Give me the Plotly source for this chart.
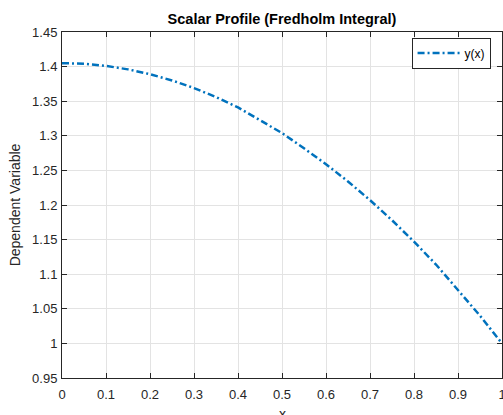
import plotly.graph_objects as go

x_vals = [0.0, 0.05, 0.1, 0.15, 0.2, 0.25, 0.3, 0.35, 0.4, 0.45, 0.5,
          0.55, 0.6, 0.65, 0.7, 0.75, 0.8, 0.85, 0.9, 0.95, 1.0]
y_vals = [1.405, 1.404, 1.401, 1.396, 1.389, 1.380, 1.369, 1.356, 1.341, 1.323, 1.304,
          1.282, 1.259, 1.234, 1.207, 1.178, 1.147, 1.114, 1.077, 1.040, 1.000]

x_ticks = [0, 0.1, 0.2, 0.3, 0.4, 0.5, 0.6, 0.7, 0.8, 0.9, 1]
x_tick_labels = ["0", "0.1", "0.2", "0.3", "0.4", "0.5", "0.6", "0.7", "0.8", "0.9", "1"]
y_ticks = [0.95, 1.0, 1.05, 1.1, 1.15, 1.2, 1.25, 1.3, 1.35, 1.4, 1.45]
y_tick_labels = ["0.95", "1", "1.05", "1.1", "1.15", "1.2", "1.25", "1.3", "1.35", "1.4", "1.45"]

FONT = "Liberation Sans, Arial, sans-serif"
AX = "#262626"
GRID = "#e3e3e3"

fig = go.Figure()
fig.add_trace(go.Scatter(
    x=x_vals, y=y_vals, mode="lines", name="y(x)",
    line=dict(color="#0072BD", width=2.5, dash="7px,3px,2px,3px"),
))

axis_common = dict(
    showline=True, linecolor=AX, linewidth=1, mirror="ticks",
    ticks="inside", ticklen=5, tickcolor=AX, tickwidth=1,
    showgrid=True, gridcolor=GRID, gridwidth=1, zeroline=False,
    tickfont=dict(family=FONT, size=13, color=AX),
    ticklabeloverflow="allow",
)

fig.update_layout(
    width=503, height=415,
    margin=dict(l=62, r=1, t=32, b=37),
    paper_bgcolor="white", plot_bgcolor="white",
    title=dict(text="<b>Scalar Profile (Fredholm Integral)</b>",
               font=dict(family=FONT, size=14.5, color="#000000"),
               x=(62 + 220) / 503, xanchor="center", y=1 - 19 / 415, yanchor="middle"),
    xaxis=dict(range=[0, 1], tickvals=x_ticks, ticktext=x_tick_labels,
               ticklabelstandoff=4,
               automargin=False, **axis_common),
    yaxis=dict(range=[0.95, 1.45], tickvals=y_ticks, ticktext=y_tick_labels,
               ticklabelstandoff=1,
               title=dict(text="Dependent Variable", font=dict(family=FONT, size=14, color=AX), standoff=8),
               automargin=False, **axis_common),
    legend=dict(x=0.974, y=0.984, xanchor="right", yanchor="top",
                bgcolor="white", bordercolor=AX, borderwidth=1,
                font=dict(family=FONT, size=12, color="#000000"),
                tracegroupgap=0, itemwidth=42),
    showlegend=True,
    annotations=[dict(text="x", xref="paper", yref="paper", x=0.5, y=-0.074,
                      xanchor="center", yanchor="top", showarrow=False,
                      font=dict(family=FONT, size=14, color=AX))],
)

fig.write_html("out.html")
